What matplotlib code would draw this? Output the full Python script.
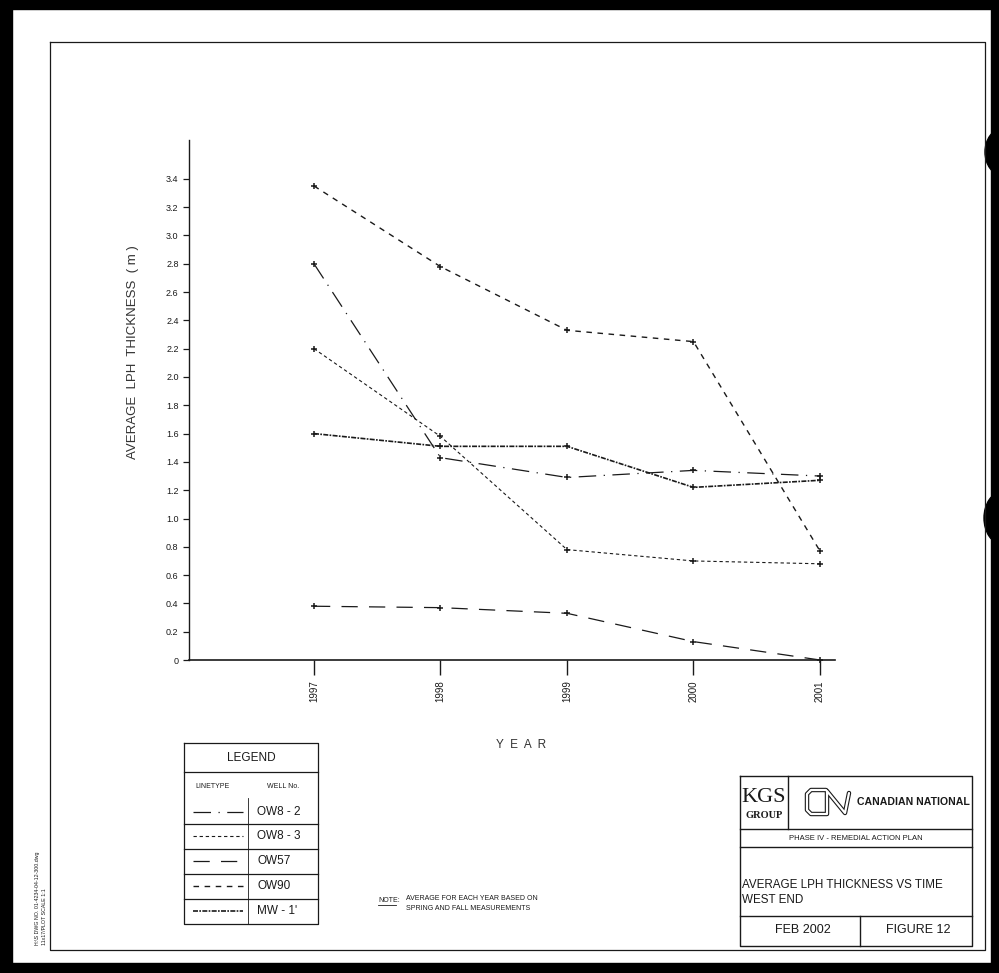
import matplotlib
matplotlib.use("Agg")
import matplotlib.pyplot as plt
from matplotlib.patches import Rectangle, Ellipse

# data
years = [1997, 1998, 1999, 2000, 2001]
year_labels = ["1997", "1998", "1999", "2000", "2001"]
ow8_2 = [2.80, 1.43, 1.29, 1.34, 1.30]
ow8_3 = [2.20, 1.58, 0.78, 0.70, 0.68]
ow57 = [0.38, 0.37, 0.33, 0.13, 0.00]
ow90 = [3.35, 2.78, 2.33, 2.25, 0.77]
mw_1 = [1.60, 1.51, 1.51, 1.22, 1.27]
well_names = ["OW8-2", "OW8-3", "OW57", "OW90", "MW-1'"]
well_text = ["OW8 - 2", "OW8 - 3", "OW57", "OW90", "MW - 1'"]
y_ticks = [0, 0.2, 0.4, 0.6, 0.8, 1.0, 1.2, 1.4, 1.6, 1.8, 2.0, 2.2, 2.4, 2.6, 2.8, 3.0, 3.2, 3.4]

narrow = ["Liberation Sans", "DejaVu Sans"]
serif = ["Liberation Serif", "DejaVu Serif"]
ink = "#1a1a1a"

styles = {
    "OW8-2": dict(ls=(0, (14, 6, 1, 6)), lw=0.9),
    "OW8-3": dict(ls=(0, (3, 2.5)), lw=0.8),
    "OW57": dict(ls=(0, (13, 9)), lw=0.9),
    "OW90": dict(ls=(0, (4, 4)), lw=1.0),
    "MW-1'": dict(ls=(0, (3, 0.8, 1, 0.8)), lw=1.2),
}
series = [ow8_2, ow8_3, ow57, ow90, mw_1]

W, H = 999, 973
fig = plt.figure(figsize=(W / 100, H / 100), dpi=100)

# overlay in pixel coordinates for frame, legend box and title block
ov = fig.add_axes([0, 0, 1, 1])
ov.set_xlim(0, W)
ov.set_ylim(H, 0)
ov.axis("off")

# scan edges
ov.add_patch(Rectangle((0, 0), W, 9, color="black"))
ov.add_patch(Rectangle((0, 963), W, 10, color="black"))
ov.add_patch(Rectangle((0, 0), 12, H, color="black"))
ov.add_patch(Rectangle((991, 0), 8, H, color="black"))
ov.add_patch(Ellipse((1002, 152), 34, 46, color="black"))
ov.add_patch(Ellipse((1002, 518), 36, 52, color="black"))

# drawing frame
ov.plot([50, 985, 985, 50, 50], [42, 42, 950, 950, 42], color=ink, lw=0.9)

# margin file info
ov.text(38, 945, "H:\\S DWG NO. 01-4234-04-12-300.dwg", rotation=90, fontsize=3.8,
        family=narrow, ha="center", va="bottom", color=ink)
ov.text(45, 945, "11x17/PLOT SCALE 1:1", rotation=90, fontsize=3.8,
        family=narrow, ha="center", va="bottom", color=ink)

# legend table
lx0, lx1, ldiv = 184, 318, 248
ov.plot([lx0, lx1, lx1, lx0, lx0], [743, 743, 924, 924, 743], color=ink, lw=0.9)
ov.plot([lx0, lx1], [772, 772], color=ink, lw=0.9)
for yy in [824, 849, 874, 899]:
    ov.plot([lx0, lx1], [yy, yy], color=ink, lw=0.9)
ov.plot([ldiv, ldiv], [798, 924], color=ink, lw=0.6)
ov.text((lx0 + lx1) / 2, 758, "LEGEND", fontsize=8.5, family=narrow, ha="center", va="center", color=ink)
ov.text(213, 787, "LINETYPE", fontsize=5, family=narrow, ha="center", va="center", color=ink)
ov.text(283, 787, "WELL No.", fontsize=5, family=narrow, ha="center", va="center", color=ink)
row_y = [812, 836, 861, 886, 911]
for name, label, yy in zip(well_names, well_text, row_y):
    st = styles[name]
    ov.plot([193, 243], [yy, yy], color=ink, ls=st["ls"], lw=st["lw"])
    ov.text(257, yy, label, fontsize=8.5, family=narrow, ha="left", va="center", color=ink)

# note
ov.text(378, 900, "NOTE:", fontsize=5, family=narrow, ha="left", va="center", color=ink)
ov.plot([378, 396], [905, 905], color=ink, lw=0.6)
ov.text(406, 899, "AVERAGE FOR EACH YEAR BASED ON", fontsize=5, family=narrow,
        ha="left", va="center", color=ink)
ov.text(406, 909, "SPRING AND FALL MEASUREMENTS", fontsize=5, family=narrow,
        ha="left", va="center", color=ink)

# title block
tx0, tx1 = 740, 972
ov.plot([tx0, tx1, tx1, tx0, tx0], [776, 776, 946, 946, 776], color=ink, lw=1.0)
for yy in [829, 847, 916]:
    ov.plot([tx0, tx1], [yy, yy], color=ink, lw=1.0)
ov.plot([788, 788], [776, 829], color=ink, lw=1.0)
ov.plot([860, 860], [916, 946], color=ink, lw=1.0)
ov.text(764, 797, "KGS", fontsize=16, family=serif, ha="center", va="center", color=ink)
ov.text(764, 816, "GROUP", fontsize=7.5, family=serif, weight="bold", ha="center", va="center", color=ink)
# CN logo drawn as an outlined stroke
logo_x = [826, 811, 807, 807, 811, 827, 827, 845, 849]
logo_y = [790, 790, 794, 810, 814, 814, 791, 813, 793]
ov.plot(logo_x, logo_y, color=ink, lw=3.2, solid_joinstyle="round", solid_capstyle="round")
ov.plot(logo_x, logo_y, color="white", lw=1.6, solid_joinstyle="round", solid_capstyle="round")
ov.text(857, 802, "CANADIAN NATIONAL", fontsize=7.6, family=narrow, weight="bold",
        ha="left", va="center", color=ink)
ov.text((tx0 + tx1) / 2, 838, "PHASE IV - REMEDIAL ACTION PLAN", fontsize=5.5, family=narrow,
        ha="center", va="center", color=ink)
ov.text(tx0 + 2, 885, "AVERAGE LPH THICKNESS VS TIME", fontsize=8.4, family=narrow,
        ha="left", va="center", color=ink)
ov.text(tx0 + 2, 900, "WEST END", fontsize=8.4, family=narrow, ha="left", va="center", color=ink)
ov.text(803, 930, "FEB 2002", fontsize=9, family=narrow, ha="center", va="center", color=ink)
ov.text(918, 930, "FIGURE 12", fontsize=9, family=narrow, ha="center", va="center", color=ink)

# axis labels
ov.text(133, 352, "AVERAGE  LPH  THICKNESS  ( m )", rotation=90, fontsize=9.5, family=narrow,
        ha="center", va="center", color="#333333")
ov.text(521, 745, "Y  E  A  R", fontsize=8.5, family=narrow, ha="center", va="center", color="#333333")

# chart axes positioned in pixels
px_l, px_r, px_t, px_b = 189, 835, 140, 660
ax = fig.add_axes([px_l / W, 1 - px_b / H, (px_r - px_l) / W, (px_b - px_t) / H])
ax.patch.set_alpha(0)
x_per_year = 126.5
ax.set_xlim(1997 - (314 - px_l) / x_per_year, 1997 + (px_r - 314) / x_per_year)
ax.set_ylim(0, (px_b - px_t) / 141.5)

for name, vals in zip(well_names, series):
    st = styles[name]
    ax.plot(years, vals, color=ink, ls=st["ls"], lw=st["lw"],
            marker="+", markersize=5, markeredgewidth=1.1, clip_on=False)

for side in ["top", "right"]:
    ax.spines[side].set_visible(False)
ax.spines["left"].set_linewidth(1.0)
ax.spines["bottom"].set_linewidth(1.2)
ax.spines["left"].set_color(ink)
ax.spines["bottom"].set_color(ink)

ax.set_yticks(y_ticks)
ax.set_yticklabels(["0"] + ["%.1f" % v for v in y_ticks[1:]], family=narrow, fontsize=6.5, color=ink)
ax.tick_params(axis="y", direction="out", length=4.5, width=0.9, pad=3, colors=ink)
ax.set_xticks(years)
ax.set_xticklabels(year_labels, rotation=90, family=narrow, fontsize=7, color=ink)
ax.tick_params(axis="x", direction="out", length=11, width=1.0, pad=3.5, colors=ink)

fig.savefig("out.png", dpi=100)
